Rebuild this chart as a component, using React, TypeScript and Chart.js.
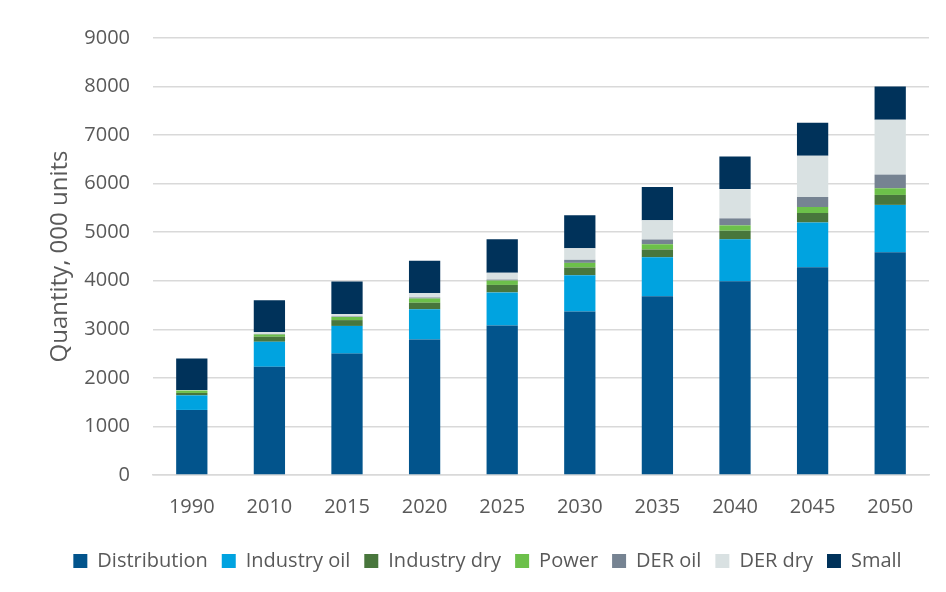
import React, { useEffect, useRef } from "react";
import { Chart, registerables } from "chart.js";

Chart.register(...registerables);

const categories = ["1990", "2010", "2015", "2020", "2025", "2030", "2035", "2040", "2045", "2050"];

const distribution = [1340, 2230, 2500, 2790, 3080, 3365, 3680, 3990, 4280, 4590];
const industryOil = [300, 515, 570, 626, 680, 750, 805, 863, 918, 973];
const industryDry = [50, 100, 120, 130, 155, 158, 158, 178, 199, 205];
const power = [50, 50, 65, 90, 90, 96, 110, 110, 123, 137];
const derOil = [0, 10, 10, 20, 20, 62, 96, 144, 205, 281];
const derDry = [10, 40, 50, 90, 140, 241, 399, 603, 849, 1130];
const small = [650, 655, 670, 665, 690, 680, 685, 670, 680, 685];

const yTicks = { min: 0, max: 9000, step: 1000 };
const yTitle = "Quantity, 000 units";

const seriesNames = ["Distribution", "Industry oil", "Industry dry", "Power", "DER oil", "DER dry", "Small"];
const seriesData = [distribution, industryOil, industryDry, power, derOil, derDry, small];
const seriesColors = ["#02548C", "#00A3E0", "#48763C", "#6CC04A", "#768392", "#D9E1E2", "#00325A"];

const FONT = "'Open Sans', 'DejaVu Sans', sans-serif";
const TEXT = "#595959";

export default function App() {
  const ref = useRef<HTMLCanvasElement | null>(null);

  useEffect(() => {
    if (!ref.current) return;
    const chart = new Chart(ref.current, {
      type: "bar",
      data: {
        labels: categories,
        datasets: seriesNames.map((name, i) => ({
          label: name,
          data: seriesData[i],
          backgroundColor: seriesColors[i],
          borderWidth: 0,
          categoryPercentage: 1,
          barPercentage: 0.403,
        })),
      },
      options: {
        animation: false,
        responsive: false,
        maintainAspectRatio: false,
        layout: { padding: { left: 46, right: 17, top: 38, bottom: 11 } },
        plugins: {
          tooltip: { enabled: false },
          legend: {
            position: "bottom",
            labels: {
              boxWidth: 14,
              boxHeight: 14,
              padding: 14,
              color: TEXT,
              font: { family: FONT, size: 20 },
            },
          },
        },
        scales: {
          x: {
            stacked: true,
            grid: { display: false, drawTicks: false },
            border: { display: true, color: "#D9D9D9", width: 1.5 },
            ticks: { color: TEXT, font: { family: FONT, size: 20 }, padding: 20 },
            afterFit: (axis: any) => {
              axis.height -= 2;
            },
          },
          y: {
            stacked: true,
            min: yTicks.min,
            max: yTicks.max,
            ticks: {
              stepSize: yTicks.step,
              color: TEXT,
              font: { family: FONT, size: 20 },
              padding: 23,
              callback: (v: any) => String(v),
            },
            grid: { color: "#D9D9D9", lineWidth: 1.5, drawTicks: false },
            border: { display: false },
            title: {
              display: true,
              text: yTitle,
              color: TEXT,
              font: { family: FONT, size: 24, weight: "normal" },
              padding: { top: 0, bottom: 0 },
            },
            afterFit: (axis: any) => {
              axis.width = 107;
            },
          },
        },
      },
    });
    return () => chart.destroy();
  }, []);

  return (
    <div style={{ position: "fixed", left: 0, top: 0, width: 946, height: 592, background: "#fff" }}>
      <canvas ref={ref} width={946} height={592} style={{ width: 946, height: 592, display: "block" }} />
    </div>
  );
}
